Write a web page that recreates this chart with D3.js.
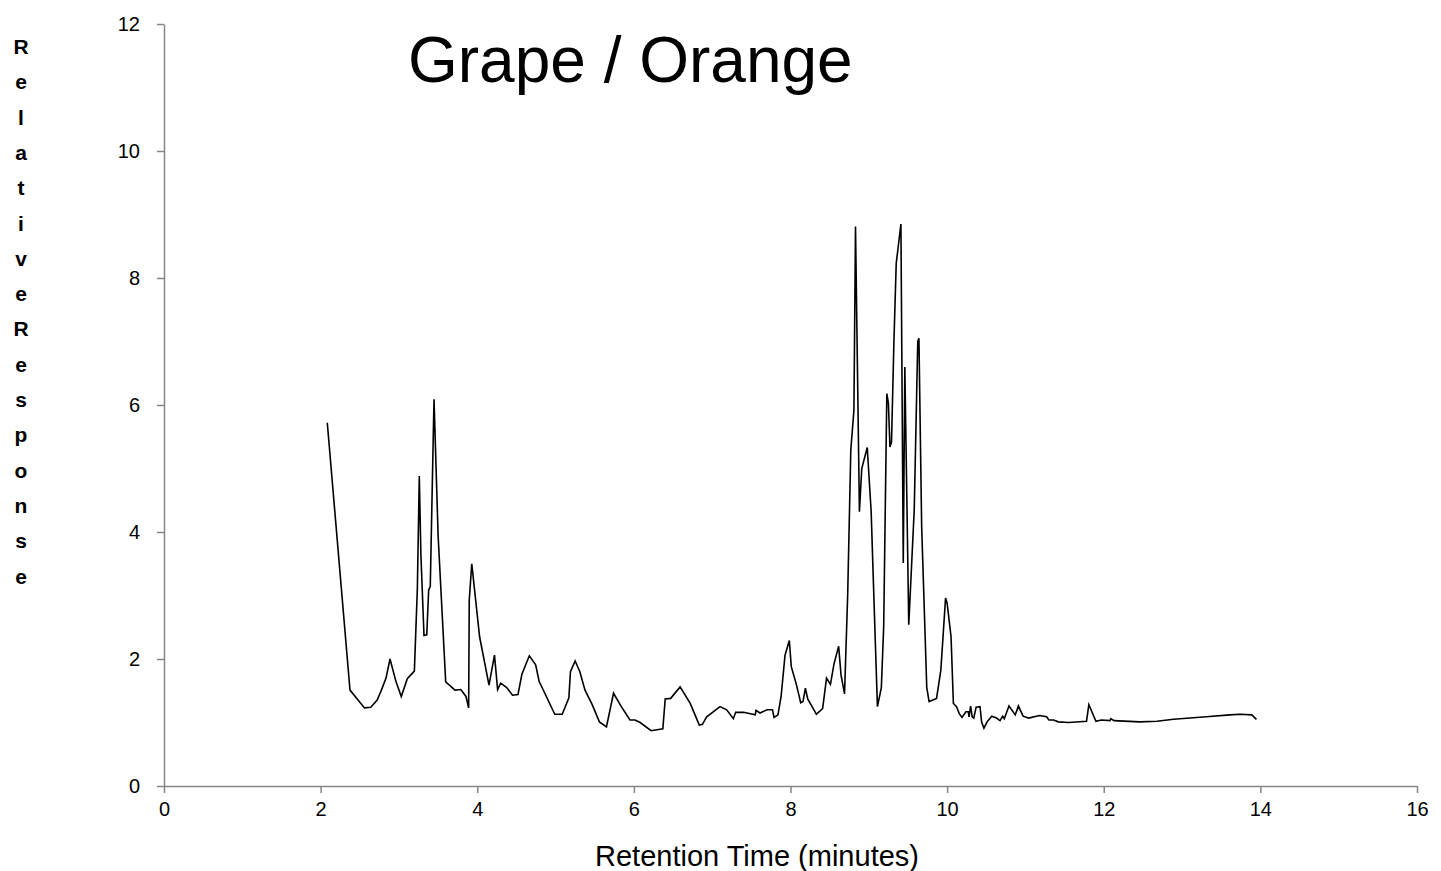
<!DOCTYPE html>
<html>
<head>
<meta charset="utf-8">
<script src="https://cdn.jsdelivr.net/npm/d3@7"></script>
<style>
  html, body { margin: 0; padding: 0; background: #ffffff; }
  svg { display: block; font-family: "Liberation Sans", Arial, sans-serif; }
</style>
</head>
<body>
<svg id="chart" width="1441" height="871"></svg>
<script>
// Retention time (minutes) and relative response of the chromatogram trace
const retentionTimes = [
  2.085, 2.375, 2.56, 2.64, 2.72, 2.77, 2.835, 2.886, 2.963, 3.03,
  3.107, 3.197, 3.235, 3.26, 3.28, 3.32, 3.355, 3.38, 3.40, 3.448,
  3.50, 3.597, 3.716, 3.79, 3.856, 3.89, 3.898, 3.93, 4.03, 4.15,
  4.22, 4.26, 4.30, 4.376, 4.45, 4.52, 4.57, 4.665, 4.746, 4.79,
  4.99, 5.085, 5.17, 5.19, 5.25, 5.31, 5.376, 5.465, 5.56, 5.65,
  5.74, 5.84, 5.95, 6.015, 6.08, 6.22, 6.37, 6.40, 6.47, 6.59,
  6.72, 6.835, 6.875, 6.93, 7.10, 7.185, 7.27, 7.30, 7.40, 7.55,
  7.56, 7.61, 7.70, 7.77, 7.79, 7.84, 7.88, 7.93, 7.985, 8.01,
  8.07, 8.11, 8.13, 8.16, 8.19, 8.22, 8.29, 8.33, 8.41, 8.46,
  8.51, 8.555, 8.615, 8.645, 8.69, 8.73, 8.77, 8.81, 8.83, 8.88,
  8.91, 8.98, 9.03, 9.07, 9.11, 9.16, 9.19, 9.23, 9.25, 9.27,
  9.29, 9.32, 9.35, 9.41, 9.44, 9.46, 9.51, 9.58, 9.625, 9.64,
  9.675, 9.74, 9.77, 9.865, 9.92, 9.98, 10.00, 10.05, 10.08, 10.12,
  10.155, 10.19, 10.24, 10.27, 10.28, 10.30, 10.32, 10.34, 10.37, 10.42,
  10.44, 10.47, 10.51, 10.57, 10.63, 10.675, 10.71, 10.73, 10.79, 10.87,
  10.91, 10.97, 11.04, 11.18, 11.27, 11.30, 11.36, 11.42, 11.55, 11.78,
  11.81, 11.90, 11.97, 12.08, 12.09, 12.13, 12.46, 12.68, 12.89, 13.31,
  13.61, 13.74, 13.89, 13.95
];
const responses = [
  5.72, 1.51, 1.23, 1.24, 1.35, 1.49, 1.70, 2.00, 1.64, 1.41,
  1.69, 1.81, 3.10, 4.88, 3.66, 2.37, 2.38, 3.09, 3.14, 6.09,
  3.95, 1.64, 1.51, 1.52, 1.41, 1.23, 2.93, 3.50, 2.35, 1.59,
  2.06, 1.52, 1.62, 1.55, 1.43, 1.44, 1.76, 2.05, 1.91, 1.65,
  1.13, 1.13, 1.39, 1.80, 1.97, 1.80, 1.51, 1.29, 1.01, 0.93,
  1.46, 1.25, 1.04, 1.04, 1.00, 0.87, 0.90, 1.37, 1.38, 1.56,
  1.30, 0.96, 0.97, 1.09, 1.25, 1.20, 1.06, 1.16, 1.16, 1.12,
  1.19, 1.15, 1.20, 1.20, 1.08, 1.12, 1.41, 2.06, 2.29, 1.88,
  1.62, 1.42, 1.31, 1.33, 1.54, 1.37, 1.22, 1.13, 1.22, 1.70,
  1.60, 1.92, 2.20, 1.75, 1.45, 3.00, 5.29, 5.92, 8.81, 4.32,
  5.00, 5.33, 4.32, 2.77, 1.25, 1.55, 2.51, 6.18, 6.03, 5.34,
  5.42, 6.97, 8.23, 8.85, 3.51, 6.60, 2.54, 4.35, 7.00, 7.05,
  4.08, 1.55, 1.33, 1.38, 1.83, 2.96, 2.88, 2.35, 1.30, 1.25,
  1.14, 1.08, 1.17, 1.17, 1.09, 1.26, 1.09, 1.07, 1.24, 1.25,
  1.01, 0.91, 1.01, 1.10, 1.07, 1.03, 1.10, 1.06, 1.26, 1.12,
  1.26, 1.10, 1.07, 1.11, 1.09, 1.04, 1.04, 1.01, 1.00, 1.02,
  1.28, 1.02, 1.04, 1.03, 1.06, 1.03, 1.01, 1.02, 1.05, 1.09,
  1.12, 1.13, 1.12, 1.05
];
const xTicks = [0, 2, 4, 6, 8, 10, 12, 14, 16];
const yTicks = [0, 2, 4, 6, 8, 10, 12];
const chartTitle = "Grape / Orange";
const xAxisTitle = "Retention Time (minutes)";
const yAxisTitle = "RelativeResponse";

const svg = d3.select("#chart");
const axisColor = "#868686";

const x = d3.scaleLinear().domain([0, 16]).range([164, 1417]);
const y = d3.scaleLinear().domain([0, 12]).range([786, 24]);

const points = retentionTimes.map((t, i) => ({ t, r: responses[i] }));

// Axes
const xAxis = svg.append("g")
  .attr("transform", `translate(0,${y(0)})`)
  .call(d3.axisBottom(x).tickValues(xTicks).tickFormat(d3.format("d"))
    .tickSize(7).tickSizeOuter(0).tickPadding(9));

const yAxis = svg.append("g")
  .attr("transform", `translate(${x(0)},0)`)
  .call(d3.axisLeft(y).tickValues(yTicks).tickFormat(d3.format("d"))
    .tickSize(7).tickSizeOuter(0).tickPadding(17));

[xAxis, yAxis].forEach(g => {
  g.select(".domain").attr("stroke", axisColor).attr("stroke-width", 1.5);
  g.selectAll(".tick line").attr("stroke", axisColor).attr("stroke-width", 1.5);
  g.selectAll(".tick text")
    .attr("fill", "#000")
    .style("font-family", "'Liberation Sans', Arial, sans-serif")
    .style("font-size", "20px");
});

// Trace
const line = d3.line().x(d => x(d.t)).y(d => y(d.r));
svg.append("path")
  .datum(points)
  .attr("fill", "none")
  .attr("stroke", "#000")
  .attr("stroke-width", 1.6)
  .attr("stroke-linejoin", "miter")
  .attr("d", line);

// Chart title
svg.append("text")
  .attr("x", 408)
  .attr("y", 82)
  .attr("fill", "#000")
  .style("font-size", "64px")
  .text(chartTitle);

// X axis title
svg.append("text")
  .attr("x", 757)
  .attr("y", 866)
  .attr("text-anchor", "middle")
  .attr("fill", "#000")
  .style("font-size", "29px")
  .text(xAxisTitle);

// Y axis title, one letter per line
svg.append("g")
  .selectAll("text")
  .data(yAxisTitle.split(""))
  .join("text")
  .attr("x", 21)
  .attr("y", (d, i) => 54 + i * 35.3)
  .attr("text-anchor", "middle")
  .attr("fill", "#000")
  .style("font-size", "21px")
  .style("font-weight", "bold")
  .text(d => d);
</script>
</body>
</html>
